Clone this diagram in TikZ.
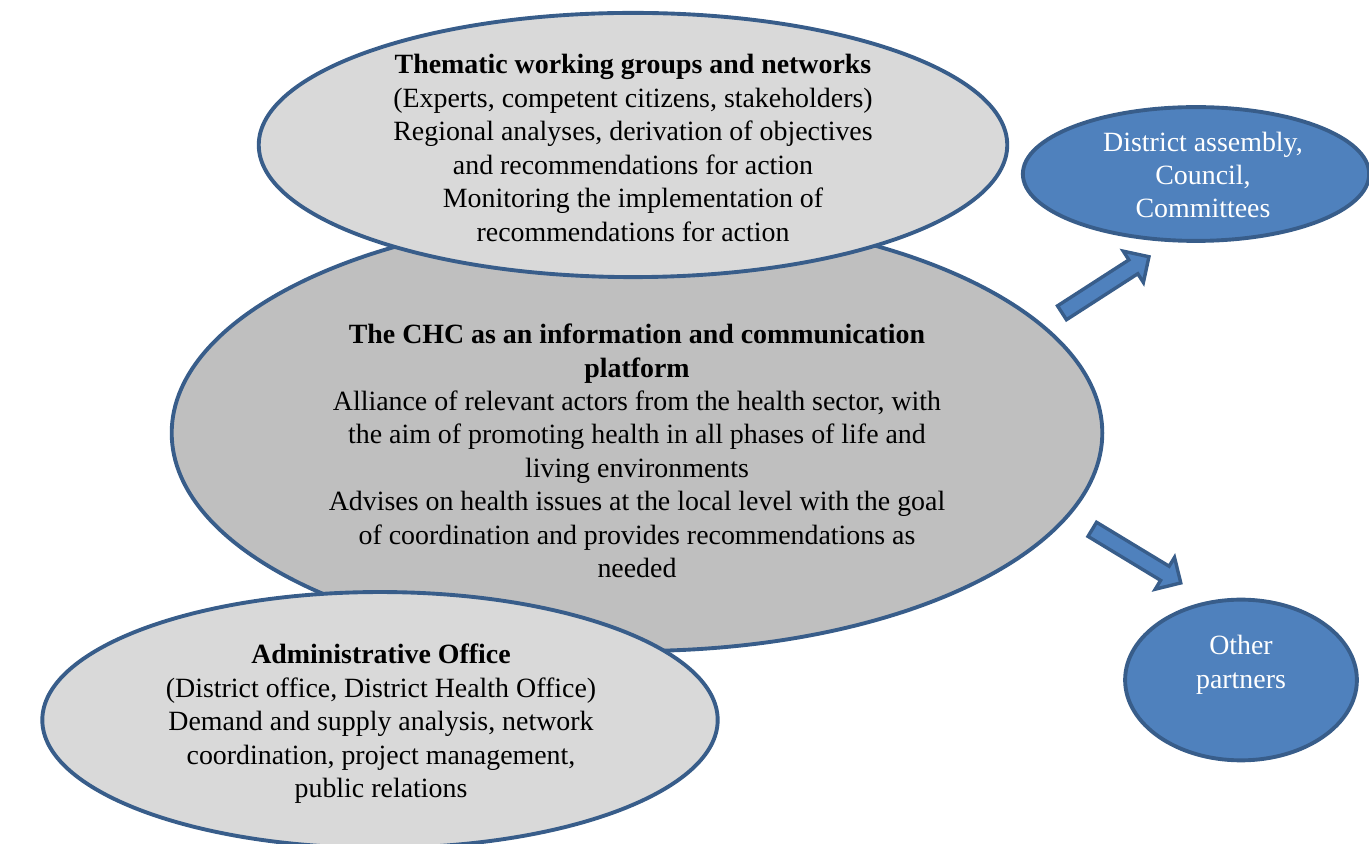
\documentclass[tikz,border=0pt]{standalone}
\usepackage{fontspec}
\setmainfont{Liberation Serif}
\usetikzlibrary{shapes.geometric,shapes.arrows}
\definecolor{rim}{HTML}{385D8A}
\definecolor{paleGray}{HTML}{D9D9D9}
\definecolor{midGray}{HTML}{BFBFBF}
\definecolor{office}{HTML}{4F81BD}

\begin{document}
\begin{tikzpicture}[x=0.0145cm,y=-0.0145cm]
   \clip (0,0) rectangle (1369,844);
   \tikzstyle{bubble}=[ellipse, draw=rim, line width=1.6pt, inner sep=0pt]
   \tikzstyle{words}=[align=center, inner sep=0pt, font=\fontsize{11.5}{13.8}\selectfont]
   \tikzstyle{fat}=[single arrow, draw=rim, fill=office, line width=1.4pt, inner xsep=0pt,
                    inner ysep=0.095cm, minimum height=1.5cm, single arrow head extend=0.15cm]
   % the three grey bubbles
   \node[bubble, fill=midGray, minimum width=13.49cm, minimum height=6.32cm] (chc) at (637,433) {};
   \node[bubble, fill=paleGray, minimum width=10.85cm, minimum height=3.83cm] (groups) at (633,145) {};
   \node[bubble, fill=paleGray, minimum width=9.79cm, minimum height=3.71cm] (admin) at (380,720) {};
   \node[words] (groupstext) at (633,148) {\textbf{Thematic working groups and networks}\\
      (Experts, competent citizens, stakeholders)\\
      Regional analyses, derivation of objectives\\
      and recommendations for action\\
      Monitoring the implementation of\\
      recommendations for action};
   \node[words] (chctext) at (637,451) {\textbf{The CHC as an information and communication}\\
      \textbf{platform}\\
      Alliance of relevant actors from the health sector, with\\
      the aim of promoting health in all phases of life and\\
      living environments\\
      Advises on health issues at the local level with the goal\\
      of coordination and provides recommendations as\\
      needed};
   \node[words] (admintext) at (381,724) {\textbf{Administrative Office}\\
      (District office, District Health Office)\\
      Demand and supply analysis, network\\
      coordination, project management,\\
      public relations};
   % the two partners on the right
   \node[bubble, fill=office, minimum width=5.02cm, minimum height=1.94cm] (council) at (1196,174) {};
   \node[bubble, fill=office, minimum width=3.36cm, minimum height=2.33cm] (partners) at (1241,680) {};
   \node[words, text=white] (counciltext) at (1203,175) {District assembly,\\Council,\\Committees};
   \node[words, text=white] (partnerstext) at (1241,665) {Other\\partners};
   \node[fat, rotate=32.8] (toCouncil) at (1102,287) {};
   \node[fat, rotate=-31.2] (toPartners) at (1133,554) {};
\end{tikzpicture}
\end{document}
